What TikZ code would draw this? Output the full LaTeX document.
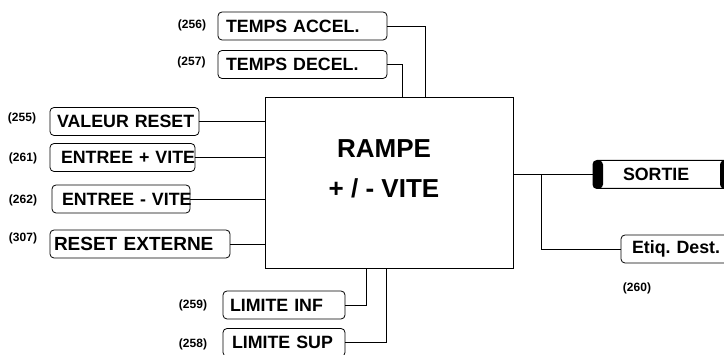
\documentclass[tikz,border=0pt]{standalone}
\usepackage{fontspec}
\setmainfont{Liberation Sans}
\frenchspacing
\usetikzlibrary{calc}
\tikzset{
  param/.style={draw=black,line width=0.8pt,rounded corners=4pt,minimum height=28pt,inner xsep=8pt,inner ysep=2pt,align=left,font=\bfseries\fontsize{17.8}{20}\selectfont},
  outbox/.style={param,line width=1pt,
    path picture={\fill[black] (path picture bounding box.north west) rectangle ([xshift=10pt]path picture bounding box.south west);
                  \fill[black] ([xshift=-12pt]path picture bounding box.north east) rectangle (path picture bounding box.south east);}},
  block/.style={draw=black,line width=0.8pt,minimum width=248pt,minimum height=171pt},
  title/.style={align=center,font=\bfseries\fontsize{26}{40}\selectfont},
  tag/.style={inner sep=0pt,font=\bfseries\fontsize{12}{14}\selectfont},
  wire/.style={draw=black,line width=0.8pt}
}

\begin{document}
\begin{tikzpicture}[x=1pt,y=-1pt]
  \useasboundingbox (0,0) rectangle (724,355);
  \clip (0,0) rectangle (724,355);

  \node[block] (rampe) at (389,182.5) {};
  \node[title] (titre) at (384,169) {RAMPE\\+ / - VITE};

  \node[param,text width=153pt] (accel) at (302.5,26) {\mbox{TEMPS ACCEL.}};
  \node[param,text width=153pt] (decel) at (302.5,64.5) {\mbox{TEMPS DECEL.}};
  \node[param,inner xsep=7pt,text width=135pt] (valeur) at (124.5,121.5) {\mbox{VALEUR RESET}};
  \node[param,inner xsep=11pt,text width=123pt] (entplus) at (122.5,157.5) {\mbox{ENTREE + VITE}};
  \node[param,inner xsep=10pt,text width=118pt] (entmoins) at (121,199) {\mbox{ENTREE - VITE}};
  \node[param,inner xsep=4pt,text width=172pt,font=\bfseries\fontsize{19}{21}\selectfont] (reset) at (140,244) {\mbox{RESET EXTERNE}};
  \node[param,inner xsep=7pt,text width=108pt] (liminf) at (284,305) {\mbox{LIMITE INF}};
  \node[param,inner xsep=9pt,text width=104pt] (limsup) at (284,342.5) {\mbox{LIMITE SUP}};
  \node[outbox,inner xsep=30pt,text width=79pt] (sortie) at (662.5,174.5) {SORTIE};
  \node[param,inner xsep=11pt,text width=102pt] (etiq) at (683,249) {\mbox{Etiq. Dest.}};

  \node[tag] (n256) at (192,25) {(256)};
  \node[tag] (n257) at (191.5,62) {(257)};
  \node[tag] (n255) at (22,118) {(255)};
  \node[tag] (n261) at (23,158) {(261)};
  \node[tag] (n262) at (23,200) {(262)};
  \node[tag] (n307) at (23,238) {(307)};
  \node[tag] (n259) at (193,305) {(259)};
  \node[tag] (n258) at (193,344) {(258)};
  \node[tag] (n260) at (637,288) {(260)};

  \draw[wire] (accel.east) -| ([xshift=161pt]rampe.north west);
  \draw[wire] (decel.east) -| ([xshift=138pt]rampe.north west);
  \draw[wire] (valeur.east) -- (valeur.east -| rampe.west);
  \draw[wire] (entplus.east) -- (entplus.east -| rampe.west);
  \draw[wire] (entmoins.east) -- (entmoins.east -| rampe.west);
  \draw[wire] (reset.east) -- (reset.east -| rampe.west);
  \draw[wire] (liminf.east) -| ([xshift=102pt]rampe.south west);
  \draw[wire] (limsup.east) -| ([xshift=122pt]rampe.south west);

  \coordinate (split) at ($(rampe.east |- sortie.west)+(28,0)$);
  \draw[wire] (rampe.east |- sortie.west) -- (sortie.west);
  \draw[wire] (split) |- (etiq.west);
\end{tikzpicture}
\end{document}
